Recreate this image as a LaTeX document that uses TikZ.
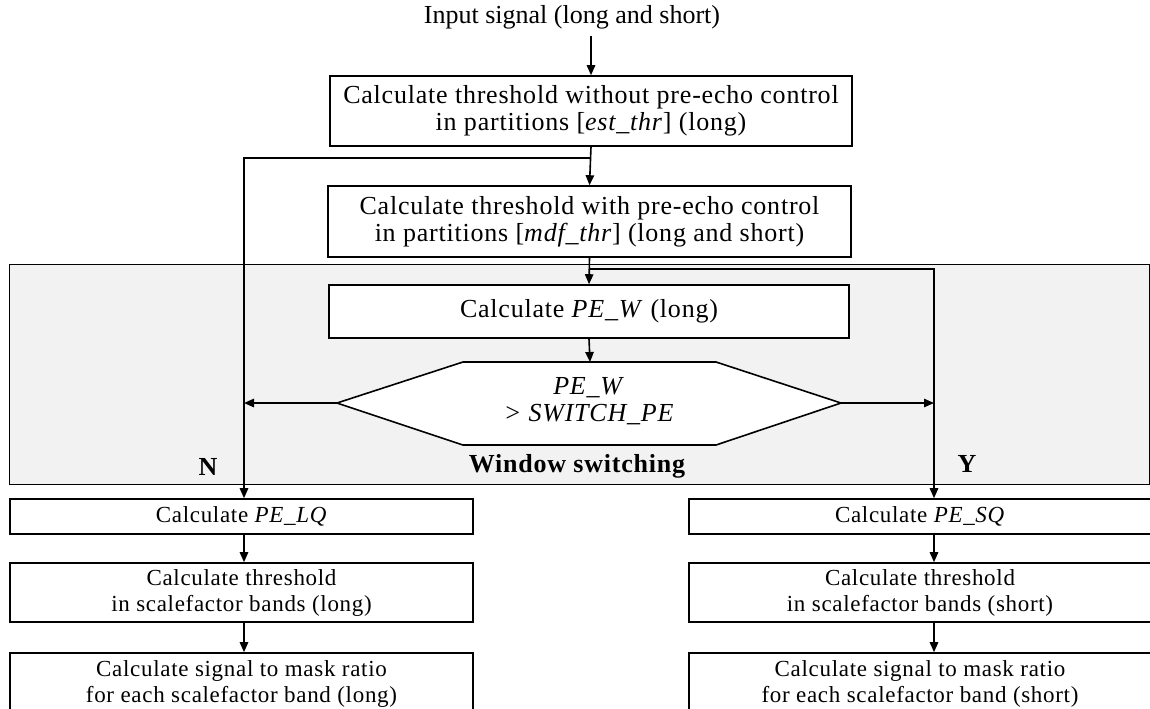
\documentclass[tikz,border=0pt]{standalone}
\usepackage{fontspec}
\setmainfont{Liberation Serif}[LetterSpace=3]
\usetikzlibrary{arrows.meta,calc}
\begin{document}
\begin{tikzpicture}[x=0.5pt,y=-0.5pt,
  every node/.style={font=\fontsize{13}{13.5}\selectfont},
  small/.style={font=\fontsize{11.5}{13}\selectfont},
  boxsty/.style={draw,line width=0.8pt,inner sep=0pt,align=center,rectangle},
  arr/.style={line width=0.8pt,-{Triangle[length=5pt,width=4.2pt]}},
  lbl/.style={font=\fontsize{13}{13.5}\selectfont\bfseries}]
\useasboundingbox (0,0) rectangle (1150,708);
\clip (0,0) rectangle (1150,708);
% shaded window-switching region
\draw[line width=0.5pt,fill=black!5] (9,264) rectangle (1149,484);
% coordinates
\coordinate (colL) at (244,0);
\coordinate (colR) at (934,0);
\coordinate (brL) at (590,158);
\coordinate (brR) at (590,269);
% nodes
\node[font=\fontsize{13}{13.5}\selectfont\addfontfeatures{LetterSpace=0}] (in) at (572,17) {Input signal (long and short)};
\node[boxsty,minimum width=261pt,minimum height=35pt] (b1) at (591,111)
  {Calculate threshold without pre-echo control\\in partitions [\textit{est\_thr}] (long)};
\node[boxsty,minimum width=261.5pt,minimum height=35.5pt] (b2) at (589.5,221.5)
  {Calculate threshold with pre-echo control\\in partitions [\textit{mdf\_thr}] (long and short)};
\node[boxsty,fill=white,minimum width=260pt,minimum height=26.5pt] (b3) at (589,311.5)
  {Calculate \textit{PE\_W} (long)};
% hexagon decision
\coordinate (hexL) at (337,403);
\coordinate (hexR) at (841,403);
\coordinate (hexT) at (590,362);
\draw[line width=0.8pt,fill=white] (hexL) -- (463,362) -- (716,362) -- (hexR) -- (716,445) -- (463,445) -- cycle;
\node[align=center] (hex) at (589,401) {\textit{PE\_W}\\\textit{> SWITCH\_PE}};
\node[lbl] (ws) at (577,466) {Window switching};
\node[lbl] (nl) at (208,467) {N};
\node[lbl] (yl) at (967,464) {Y};
% left column
\node[boxsty,small,fill=white,minimum width=231.5pt,minimum height=17.5pt] (c1) at (241.5,516.5) {Calculate \textit{PE\_LQ}};
\node[boxsty,small,minimum width=231.5pt,minimum height=29.5pt] (c2) at (241.5,592.5)
  {Calculate threshold\\in scalefactor bands (long)};
\node[boxsty,minimum width=231.5pt,minimum height=32.5pt] (c3) at (241.5,685.5) {};
\node[small,align=center] (c3t) at (241.5,684) {Calculate signal to mask ratio\\for each scalefactor band (long)};
% right column
\node[boxsty,small,fill=white,minimum width=231pt,minimum height=17.5pt] (d1) at (920,516.5) {Calculate \textit{PE\_SQ}};
\node[boxsty,small,minimum width=231pt,minimum height=29.5pt] (d2) at (920,592.5)
  {Calculate threshold\\in scalefactor bands (short)};
\node[boxsty,minimum width=231pt,minimum height=32.5pt] (d3) at (920,685.5) {};
\node[small,align=center] (d3t) at (920,684) {Calculate signal to mask ratio\\for each scalefactor band (short)};
% connectors
\draw[arr] (in.south -| b1.north) -- (b1.north);
\draw[arr] (b1.south) -- (b2.north);
\draw[arr] (brL) -| (c1.north -| colL);
\draw[arr] (b2.south) -- (b3.north);
\draw[arr] (brR) -| (d1.north -| colR);
\draw[arr] (b3.south) -- (hexT);
\draw[arr] (hexL) -- (hexL -| colL);
\draw[arr] (hexR) -- (hexR -| colR);
\draw[arr] (c1.south -| colL) -- (c2.north -| colL);
\draw[arr] (c2.south -| colL) -- (c3.north -| colL);
\draw[arr] (d1.south -| colR) -- (d2.north -| colR);
\draw[arr] (d2.south -| colR) -- (d3.north -| colR);
\end{tikzpicture}
\end{document}
